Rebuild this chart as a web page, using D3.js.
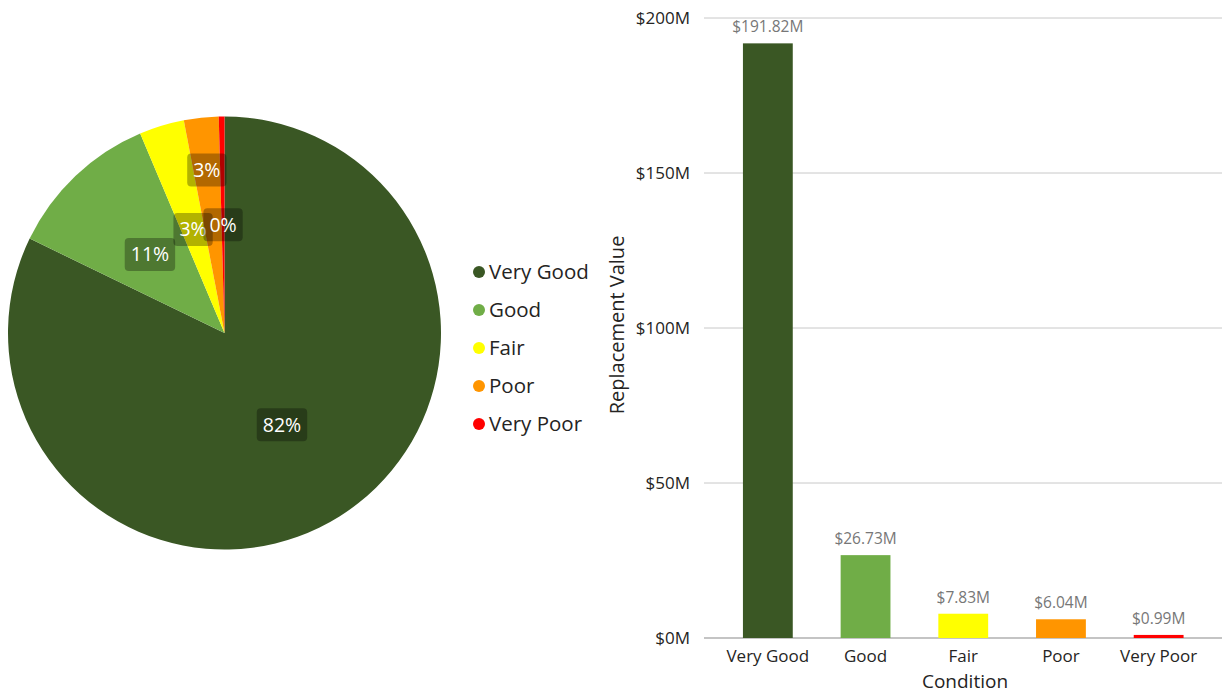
<!DOCTYPE html>
<html><head><meta charset="utf-8">
<script src="https://cdn.jsdelivr.net/npm/d3@7"></script>
<style>body{margin:0;background:#fff;} svg{display:block;font-family:"Open Sans","Noto Sans",sans-serif;}</style>
</head><body>
<svg id="chart" width="1222" height="694"></svg>
<script>
const categories = ["Very Good", "Good", "Fair", "Poor", "Very Poor"];
const values = [191.82, 26.73, 7.83, 6.04, 0.99];
const colors = ["#3a5724", "#70ad47", "#ffff00", "#ff9500", "#ff0000"];
const yTicks = [0, 50, 100, 150, 200];

const svg = d3.select("#chart");
const total = d3.sum(values);
const data = categories.map((c, i) => ({cat: c, value: values[i], color: colors[i]}));

// ---- Pie ----
const cx = 224.5, cy = 333, R = 216.5;
const pie = d3.pie().value(d => d.value).sort(null);
const arcs = pie(data);
const arc = d3.arc().innerRadius(0).outerRadius(R);
const pg = svg.append("g").attr("transform", `translate(${cx},${cy})`);
pg.selectAll("path").data(arcs).join("path").attr("d", arc).attr("fill", d => d.data.color);

const placed = [];
arcs.forEach(a => {
  let rf = 0.5;
  let c = d3.arc().innerRadius(R * rf).outerRadius(R * rf).centroid(a);
  if (placed.some(p => Math.abs(p[0] - c[0]) < 25 && Math.abs(p[1] - c[1]) < 20)) {
    rf = 0.757;
    c = d3.arc().innerRadius(R * rf).outerRadius(R * rf).centroid(a);
  }
  placed.push(c);
  const txt = Math.round(a.data.value / total * 100) + "%";
  const lg = pg.append("g").attr("transform", `translate(${c[0]},${c[1]})`);
  const t = lg.append("text").attr("text-anchor", "middle").attr("dy", "0.35em")
    .attr("font-size", 19.5).attr("fill", "#fff").text(txt);
  const bb = t.node().getBBox();
  lg.insert("rect", "text").attr("x", bb.x - 6).attr("y", -16.5).attr("width", bb.width + 12)
    .attr("height", 33).attr("rx", 4).attr("fill", "rgba(0,0,0,0.3)");
});

// ---- Legend ----
const lgd = svg.append("g");
const ly = d3.scalePoint().domain(categories).range([272, 424]);
categories.forEach((c, i) => {
  lgd.append("circle").attr("cx", 479).attr("cy", ly(c)).attr("r", 6).attr("fill", colors[i]);
  lgd.append("text").attr("x", 489).attr("y", ly(c)).attr("dy", "0.35em").attr("font-size", 20.5)
    .attr("fill", "#252423").text(c);
});

// ---- Bar chart ----
const x0 = 704, x1 = 1222, yTop = 18, yBot = 638;
const y = d3.scaleLinear().domain([0, 200]).range([yBot, yTop]);
const x = d3.scaleBand().domain(categories).range([719, 1207.5]).paddingInner(0.49).paddingOuter(0.245);

const grid = svg.append("g");
yTicks.forEach(t => {
  grid.append("line").attr("x1", x0).attr("x2", x1).attr("y1", y(t)).attr("y2", y(t))
    .attr("stroke", t === 0 ? "#b0b0b0" : "#c8c8c8").attr("stroke-width", t === 0 ? 1.5 : 1);
  grid.append("text").attr("x", 690).attr("y", y(t)).attr("dy", "0.35em").attr("text-anchor", "end")
    .attr("font-size", 17).attr("fill", "#252423").text("$" + t + "M");
});

svg.append("g").selectAll("rect").data(data).join("rect")
  .attr("x", d => x(d.cat)).attr("width", x.bandwidth())
  .attr("y", d => y(d.value)).attr("height", d => yBot - y(d.value))
  .attr("fill", d => d.color);

svg.append("g").selectAll("text").data(data).join("text")
  .attr("x", d => x(d.cat) + x.bandwidth() / 2).attr("y", d => y(d.value) - 11)
  .attr("text-anchor", "middle").attr("font-size", 15.5).attr("fill", "#777")
  .text(d => "$" + d.value.toFixed(2) + "M");

svg.append("g").selectAll("text").data(categories).join("text")
  .attr("x", d => x(d) + x.bandwidth() / 2).attr("y", 656).attr("dy", "0.35em")
  .attr("text-anchor", "middle").attr("font-size", 17).attr("fill", "#252423").text(d => d);

svg.append("text").attr("x", 965).attr("y", 681).attr("dy", "0.35em").attr("text-anchor", "middle")
  .attr("font-size", 19).attr("fill", "#252423").text("Condition");

svg.append("text").attr("transform", "translate(617,325) rotate(-90)").attr("dy", "0.35em")
  .attr("text-anchor", "middle").attr("font-size", 20).attr("fill", "#252423").text("Replacement Value");
</script>
</body></html>
